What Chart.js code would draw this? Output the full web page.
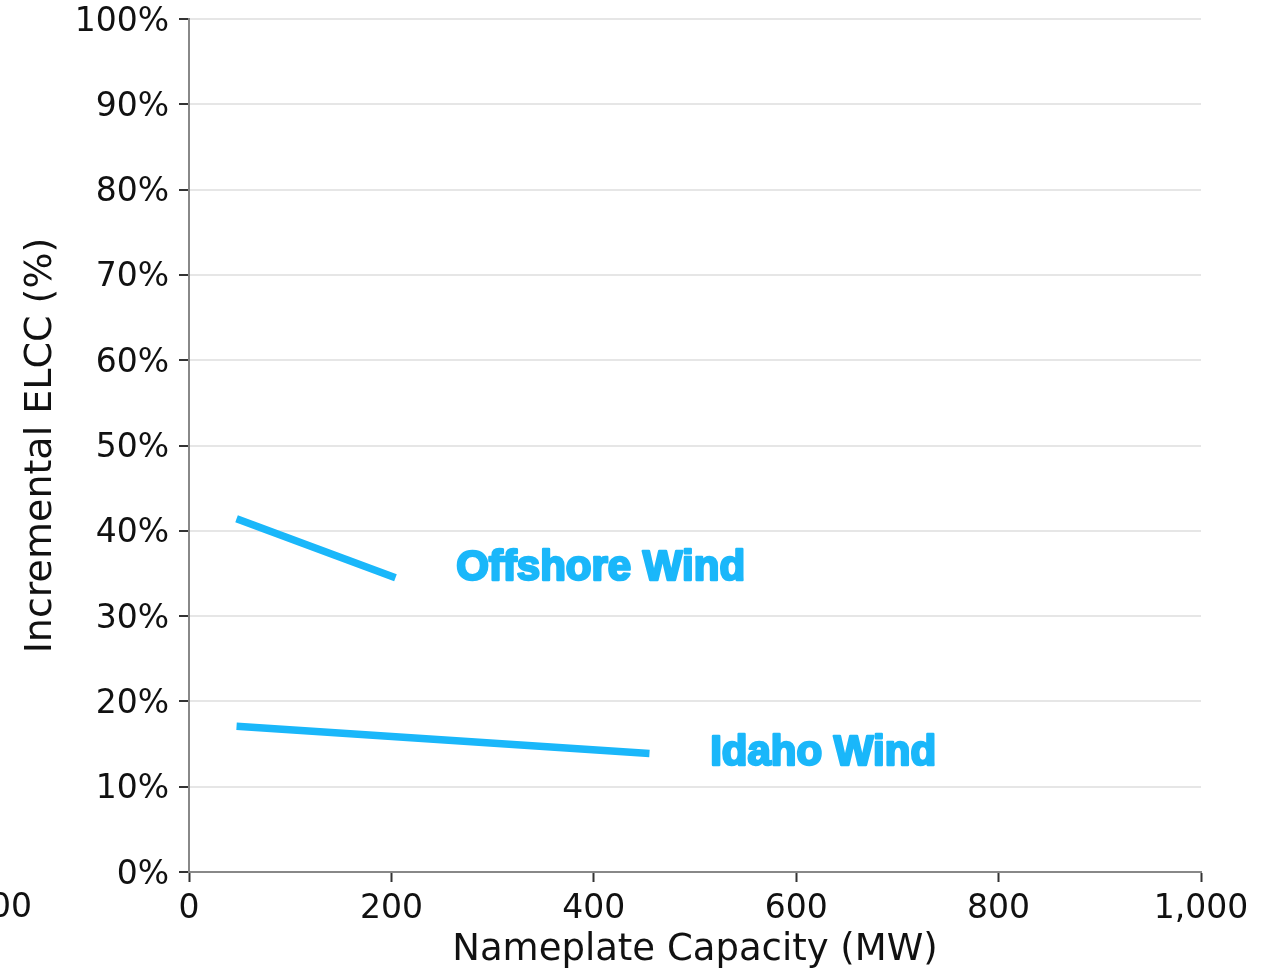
<!DOCTYPE html>
<html>
<head>
<meta charset="utf-8">
<script src="https://cdn.jsdelivr.net/npm/chart.js@4"></script>
<style>
  html, body { margin: 0; padding: 0; background: #fff; }
  #wrap { width: 1275px; height: 973px; }
</style>
</head>
<body>
<div id="wrap"><canvas id="elccChart" width="1275" height="973"></canvas></div>
<script>
// valores
const offshoreMW = [47, 204];
const offshoreElcc = [41.4, 34.5];
const idahoMW = [47, 455];
const idahoElcc = [17.1, 13.9];
const xTicks = [0, 200, 400, 600, 800, 1000];
const yTicks = [0, 10, 20, 30, 40, 50, 60, 70, 80, 90, 100];
const serieNomes = ["Offshore Wind", "Idaho Wind"];

const azul = "#1ab7fa";
const fonteEixo = "'DejaVu Sans', sans-serif";

// rótulos das séries e o tick cortado à esquerda
const rotulosPlugin = {
  id: "rotulos",
  afterDraw(chart) {
    const ctx = chart.ctx;
    const x = chart.scales.x;
    const y = chart.scales.y;
    ctx.save();
    ctx.font = "bold 42px 'Liberation Sans', Arial, sans-serif";
    ctx.fillStyle = azul;
    ctx.strokeStyle = azul;
    ctx.lineWidth = 2.5;
    ctx.lineJoin = "round";
    ctx.textAlign = "left";
    ctx.textBaseline = "middle";
    const pos = [[264, 35.6], [515, 13.95]];
    serieNomes.forEach((nome, i) => {
      const px = x.getPixelForValue(pos[i][0]);
      const py = y.getPixelForValue(pos[i][1]);
      ctx.fillText(nome, px, py);
      ctx.strokeText(nome, px, py);
    });
    // tick de -200 que aparece cortado na borda
    ctx.font = "33px " + fonteEixo;
    ctx.fillStyle = "#111";
    ctx.textAlign = "center";
    ctx.textBaseline = "top";
    ctx.fillText("\u2212200", x.getPixelForValue(-200), x.top + 20);
    ctx.restore();
  },
};

const ctx = document.getElementById("elccChart").getContext("2d");
new Chart(ctx, {
  type: "line",
  data: {
    datasets: [
      {
        label: serieNomes[0],
        data: offshoreMW.map((v, i) => ({ x: v, y: offshoreElcc[i] })),
        borderColor: azul,
        borderWidth: 7.5,
        borderCapStyle: "butt",
        pointRadius: 0,
        tension: 0,
      },
      {
        label: serieNomes[1],
        data: idahoMW.map((v, i) => ({ x: v, y: idahoElcc[i] })),
        borderColor: azul,
        borderWidth: 7.5,
        borderCapStyle: "butt",
        pointRadius: 0,
        tension: 0,
      },
    ],
  },
  options: {
    responsive: false,
    animation: false,
    layout: { padding: { top: 19, right: 74, left: 0, bottom: 0 } },
    plugins: {
      legend: { display: false },
      tooltip: { enabled: false },
    },
    scales: {
      x: {
        type: "linear",
        min: 0,
        max: 1000,
        afterBuildTicks: (axis) => { axis.ticks = xTicks.map((v) => ({ value: v })); },
        afterFit: (axis) => { axis.height = 101; axis.paddingLeft = 0; axis.paddingRight = 0; },
        grid: { drawOnChartArea: false, drawTicks: true, tickLength: 10, tickColor: "#333", tickWidth: 2 },
        border: { color: "#888", width: 2 },
        ticks: {
          color: "#111",
          font: { family: fonteEixo, size: 33 },
          padding: 8,
          maxRotation: 0,
          callback: (v) => v.toLocaleString("en-US"),
        },
        title: {
          display: true,
          text: "Nameplate Capacity (MW)",
          color: "#111",
          font: { family: fonteEixo, size: 37 },
          padding: { top: 0, bottom: 0 },
        },
      },
      y: {
        type: "linear",
        min: 0,
        max: 100,
        afterBuildTicks: (axis) => { axis.ticks = yTicks.map((v) => ({ value: v })); },
        afterFit: (axis) => { axis.width = 189; axis.paddingTop = 0; axis.paddingBottom = 0; },
        grid: { color: "#e6e6e6", lineWidth: 2, drawTicks: true, tickLength: 10, tickColor: "#333", tickWidth: 2 },
        border: { color: "#888", width: 2 },
        ticks: {
          color: "#111",
          font: { family: fonteEixo, size: 33 },
          padding: 10,
          labelOffset: 3,
          callback: (v) => v + "%",
        },
        title: {
          display: true,
          text: "Incremental ELCC (%)",
          color: "#111",
          font: { family: fonteEixo, size: 38 },
          padding: { top: 18, bottom: 0 },
        },
      },
    },
  },
  plugins: [rotulosPlugin],
});
</script>
</body>
</html>
